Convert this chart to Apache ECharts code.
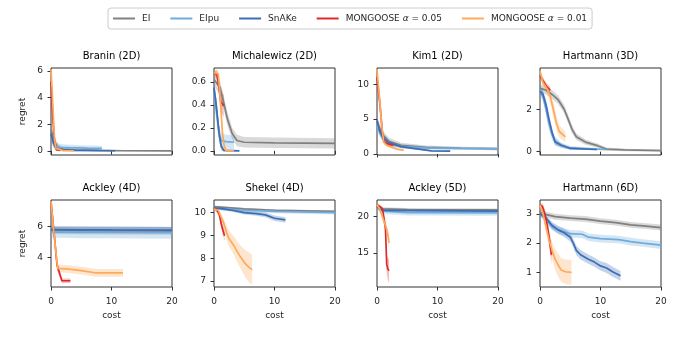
<!DOCTYPE html>
<html>
<head>
<meta charset="utf-8">
<script src="https://cdn.jsdelivr.net/npm/echarts@6/dist/echarts.min.js"></script>
<style>
  html, body { margin: 0; background: #fff; }
  #chart { width: 675px; height: 340px; }
</style>
</head>
<body>
<div id="chart"></div>
<script>
// each point: [cost, mean regret, half width of the band]
const braninEI = [[0,1.6,0.5],[0.4,1.0,0.4],[0.8,0.5,0.35],[1.2,0.25,0.25],[2,0.15,0.15],[4,0.08,0.08],[8,0.04,0.05],[12,0.02,0.03],[20,0.01,0.02]]
const braninEIpu = [[0,1.2,0.5],[0.4,0.7,0.4],[0.8,0.35,0.3],[1.5,0.28,0.25],[3,0.25,0.22],[6,0.22,0.2],[8.4,0.2,0.2]]
const braninSnAKe = [[0,1.3,0.4],[0.4,0.6,0.3],[0.8,0.2,0.15],[1.5,0.08,0.08],[4,0.04,0.05],[10.6,0.02,0.03]]
const braninM05 = [[0,5.2,0.8],[0.3,2.5,0.8],[0.6,0.6,0.3],[0.9,0.1,0.1],[1.5,0.04,0.04]]
const braninM01 = [[0,6.1,0.1],[0.2,4.5,0.5],[0.4,2.5,0.6],[0.6,0.8,0.4],[0.8,0.2,0.15],[1.1,0.06,0.06],[2,0.03,0.03],[3.8,0.02,0.02]]

const michEI = [[0,0.62,0.06],[1,0.55,0.06],[1.6,0.42,0.06],[2.2,0.28,0.06],[3,0.15,0.05],[3.8,0.09,0.05],[5,0.075,0.045],[10,0.07,0.045],[20,0.065,0.045]]
const michEIpu = [[0,0.5,0.1],[0.4,0.35,0.1],[0.8,0.16,0.08],[1.2,0.09,0.06],[2,0.08,0.06],[3.3,0.075,0.06]]
const michSnAKe = [[0,0.55,0.05],[0.3,0.43,0.06],[0.6,0.28,0.07],[0.9,0.13,0.06],[1.2,0.04,0.04],[1.6,0.005,0.01],[4.2,0,0.005]]
const michM05 = [[0,0.68,0.02],[0.5,0.66,0.04],[0.8,0.56,0.06],[1.1,0.43,0.08],[1.6,0.39,0.1]]
const michM01 = [[0,0.68,0.02],[0.7,0.67,0.03],[0.9,0.55,0.05],[1.1,0.4,0.07],[1.4,0.15,0.07],[1.7,0.04,0.04],[2,0,0.01],[3.3,0,0.005]]

const kimEI = [[0,4.6,0.8],[0.5,3.6,0.7],[1,2.7,0.6],[2,1.8,0.5],[4,1.25,0.35],[8,0.95,0.25],[14,0.82,0.2],[20,0.75,0.2]]
const kimEIpu = [[0,4.0,0.8],[0.5,3.0,0.6],[1,2.1,0.5],[2,1.45,0.35],[4,1.1,0.3],[8,0.88,0.25],[14,0.8,0.2],[20,0.75,0.2]]
const kimSnAKe = [[0,4.8,0.6],[0.5,3.2,0.5],[1,2.3,0.4],[2,1.6,0.3],[4,1.05,0.2],[6,0.8,0.15],[9,0.45,0.1],[12.1,0.4,0.1]]
const kimM05 = [[0,11.0,0.8],[0.5,7.0,1.0],[0.9,3.0,0.6],[1.2,1.7,0.3],[2,1.35,0.2],[2.7,1.25,0.2]]
const kimM01 = [[0,12.2,0.1],[0.4,8.2,0.5],[0.8,4.0,0.5],[1.1,1.7,0.3],[1.6,1.25,0.2],[2.5,0.95,0.15],[3.5,0.65,0.1],[4.4,0.55,0.1]]

const hart3EI = [[0,3.0,0.2],[1,2.9,0.2],[2,2.7,0.2],[3,2.45,0.2],[4,2.0,0.2],[4.7,1.5,0.2],[5.3,1.05,0.18],[6,0.7,0.15],[7.5,0.45,0.12],[9.5,0.28,0.1],[11,0.12,0.08],[14,0.08,0.06],[20,0.05,0.05]]
const hart3EIpu = [[0,2.9,0.2],[0.5,2.6,0.25],[1,2.0,0.3],[1.5,1.3,0.3],[2,0.8,0.25],[2.5,0.5,0.2],[3.5,0.3,0.12],[5,0.18,0.08],[10.9,0.1,0.05]]
const hart3SnAKe = [[0,2.85,0.15],[0.5,2.7,0.2],[1,2.2,0.25],[1.5,1.5,0.25],[2,0.9,0.2],[2.5,0.45,0.15],[3.5,0.3,0.1],[5,0.15,0.06],[9.4,0.1,0.04]]
const hart3M05 = [[0,3.6,0.15],[0.5,3.35,0.15],[1,3.1,0.15],[1.7,2.9,0.15]]
const hart3M01 = [[0,3.8,0.1],[0.5,3.25,0.2],[1.2,2.95,0.25],[1.7,2.6,0.3],[2.2,2.0,0.35],[2.7,1.35,0.35],[3.2,0.95,0.3],[4.2,0.7,0.25]]

const ack4EI = [[0,5.75,0.25],[5,5.73,0.25],[10,5.72,0.25],[20,5.7,0.25]]
const ack4EIpu = [[0,5.62,0.35],[5,5.6,0.38],[10,5.6,0.38],[20,5.58,0.38]]
const ack4SnAKe = [[0,5.78,0.2],[5,5.77,0.2],[10,5.76,0.2],[20,5.75,0.2]]
const ack4M05 = [[0,7.6,0.1],[0.5,5.6,0.3],[1,3.5,0.3],[1.4,3.0,0.25],[1.8,2.5,0.15],[3.2,2.5,0.15]]
const ack4M01 = [[0,7.6,0.1],[0.5,5.5,0.3],[1.1,3.3,0.25],[3,3.25,0.25],[5,3.15,0.25],[7.5,3.0,0.25],[11.9,3.0,0.25]]

const shekEI = [[0,10.26,0.04],[5,10.16,0.04],[10,10.1,0.04],[20,10.05,0.04]]
const shekEIpu = [[0,10.2,0.08],[2,10.15,0.08],[5,10.1,0.08],[10,10.05,0.08],[20,10.0,0.08]]
const shekSnAKe = [[0,10.2,0.06],[1,10.18,0.06],[3,10.1,0.07],[5,10.0,0.08],[7,9.95,0.09],[8.5,9.9,0.1],[10,9.75,0.12],[11.8,9.68,0.12]]
const shekM05 = [[0,10.2,0.05],[0.5,10.1,0.1],[0.9,9.9,0.15],[1.2,9.5,0.2],[1.5,9.2,0.22],[1.75,8.98,0.22]]
const shekM01 = [[0,10.15,0.05],[0.7,10.1,0.1],[1.1,9.85,0.15],[1.6,9.55,0.2],[2.1,9.1,0.3],[2.5,8.85,0.35],[3.3,8.55,0.4],[3.8,8.3,0.45],[4.4,8.05,0.5],[5.2,7.75,0.6],[5.8,7.6,0.65],[6.3,7.5,0.65]]

const ack5EI = [[0,21.3,0.2],[1,21.0,0.2],[5,20.9,0.2],[20,20.85,0.2]]
const ack5EIpu = [[0,21.2,0.3],[1,20.7,0.4],[5,20.5,0.4],[20,20.45,0.4]]
const ack5SnAKe = [[0,21.3,0.2],[0.5,20.9,0.2],[1,20.8,0.2],[20,20.7,0.2]]
const ack5M05 = [[0,21.6,0.1],[0.5,21.3,0.2],[0.9,21.0,0.3],[1.2,19.5,0.5],[1.4,18.3,0.7],[1.5,16,1.0],[1.6,13.5,1.3],[1.8,12.8,1.5],[2,12.6,1.6]]
const ack5M01 = [[0,21.6,0.1],[0.4,21.0,0.3],[0.8,20.2,0.4],[1.2,19.2,0.5],[1.5,18.5,0.6],[1.8,17.5,0.8],[2,16.4,0.8]]

const hart6EI = [[0,3.05,0.08],[1,2.97,0.1],[2.5,2.9,0.1],[5,2.85,0.1],[7.5,2.82,0.1],[10,2.75,0.1],[12.5,2.7,0.1],[15,2.62,0.1],[17.5,2.58,0.1],[20,2.53,0.1]]
const hart6EIpu = [[0,3.0,0.08],[1,2.8,0.1],[2,2.55,0.12],[3,2.45,0.12],[5,2.32,0.13],[7,2.3,0.13],[8,2.2,0.13],[10,2.15,0.13],[13,2.12,0.13],[15,2.05,0.13],[17,2.0,0.13],[20,1.93,0.13]]
const hart6SnAKe = [[0,3.0,0.08],[1,2.85,0.1],[2,2.6,0.12],[3,2.45,0.13],[4,2.35,0.14],[5,2.2,0.15],[5.5,2.0,0.15],[6,1.75,0.16],[6.7,1.6,0.16],[8,1.45,0.16],[9,1.35,0.16],[10,1.22,0.16],[11,1.15,0.17],[12,1.02,0.17],[13.3,0.88,0.17]]
const hart6M05 = [[0,3.3,0.05],[0.4,3.25,0.1],[0.8,3.0,0.15],[1.2,2.6,0.2],[1.5,2.2,0.25],[1.9,1.6,0.35]]
const hart6M01 = [[0,3.3,0.05],[0.5,3.0,0.15],[1,2.55,0.2],[1.5,2.1,0.25],[2,1.75,0.3],[2.5,1.45,0.35],[3,1.25,0.4],[3.5,1.08,0.4],[4.2,1.02,0.42],[5.2,1.0,0.42]]

const methods = ['EI', 'EIpu', 'SnAKe', 'MONGOOSE α = 0.05', 'MONGOOSE α = 0.01']
const titles = ['Branin (2D)', 'Michalewicz (2D)', 'Kim1 (2D)', 'Hartmann (3D)',
                'Ackley (4D)', 'Shekel (4D)', 'Ackley (5D)', 'Hartmann (6D)']
const yMin = [-0.3, -0.036, -0.15, -0.16, 2.1, 6.74, 10.4, 0.5]
const yMax = [6.22, 0.72, 12.35, 3.95, 7.68, 10.55, 22.2, 3.47]
const yTicks = [[0, 2, 4, 6], [0, 0.2, 0.4, 0.6], [0, 5, 10], [0, 2],
                [4, 6], [7, 8, 9, 10], [15, 20], [1, 2, 3]]
const xTicks = [0, 10, 20]

const panels = [
    [braninEI, braninEIpu, braninSnAKe, braninM05, braninM01],
    [michEI, michEIpu, michSnAKe, michM05, michM01],
    [kimEI, kimEIpu, kimSnAKe, kimM05, kimM01],
    [hart3EI, hart3EIpu, hart3SnAKe, hart3M05, hart3M01],
    [ack4EI, ack4EIpu, ack4SnAKe, ack4M05, ack4M01],
    [shekEI, shekEIpu, shekSnAKe, shekM05, shekM01],
    [ack5EI, ack5EIpu, ack5SnAKe, ack5M05, ack5M01],
    [hart6EI, hart6EIpu, hart6SnAKe, hart6M05, hart6M01]
]

const colors = ['#808080', '#6fabdc', '#3d6db5', '#dd2b2b', '#fdaa5c']
const FONT = 'DejaVu Sans'
const INK = '#262626'

const gridLeft = [51, 214, 377, 540]
const gridTop = [68, 200]
const gridW = 121
const gridH = 87

function rgba(hex, a) {
    const n = parseInt(hex.slice(1), 16)
    return `rgba(${n >> 16},${(n >> 8) & 255},${n & 255},${a})`
}

const grids = [], xAxes = [], yAxes = [], titleList = [], series = []

panels.forEach((panel, p) => {
    const col = p % 4, row = Math.floor(p / 4)
    grids.push({
        left: gridLeft[col], top: gridTop[row], width: gridW, height: gridH,
        show: true, borderColor: '#333', borderWidth: 1, backgroundColor: 'transparent'
    })
    titleList.push({
        text: titles[p], left: gridLeft[col] + gridW / 2, top: gridTop[row] - 17,
        textAlign: 'center', padding: 0,
        textStyle: { fontFamily: FONT, fontSize: 10, fontWeight: 'normal', color: '#000' }
    })
    xAxes.push({
        type: 'value', gridIndex: p, min: 0, max: 20,
        axisLine: { show: false },
        axisTick: { show: true, length: 3.5, lineStyle: { color: '#333' }, customValues: xTicks },
        axisLabel: {
            show: row === 1, margin: 10, customValues: xTicks,
            fontFamily: FONT, fontSize: 9, color: INK
        },
        splitLine: { show: false },
        name: row === 1 ? 'cost' : '', nameLocation: 'middle', nameGap: 24,
        nameTextStyle: { fontFamily: FONT, fontSize: 9, color: INK }
    })
    const dec = p === 1 ? 1 : 0
    yAxes.push({
        type: 'value', gridIndex: p, min: yMin[p], max: yMax[p],
        axisLine: { show: false },
        axisTick: { show: true, length: 3.5, lineStyle: { color: '#333' }, customValues: yTicks[p] },
        axisLabel: {
            margin: 8, customValues: yTicks[p],
            formatter: v => v.toFixed(dec),
            fontFamily: FONT, fontSize: 9, color: INK
        },
        splitLine: { show: false },
        name: col === 0 ? 'regret' : '', nameLocation: 'middle', nameGap: 24,
        nameTextStyle: { fontFamily: FONT, fontSize: 9, color: INK }
    })

    panel.forEach((pts, m) => {
        // confidence band, drawn as one polygon through the axis scales
        series.push({
            type: 'custom', name: methods[m] + ' band',
            xAxisIndex: p, yAxisIndex: p, z: 1, silent: true, clip: true,
            data: pts.map(d => [d[0], d[1] - d[2], d[1] + d[2]]),
            encode: { x: 0, y: [1, 2] },
            renderItem: (params, api) => {
                if (params.dataIndexInside !== 0) return
                const n = params.dataInsideLength
                const upper = [], lower = []
                for (let i = 0; i < n; i++) {
                    upper.push(api.coord([api.value(0, i), api.value(2, i)]))
                    lower.push(api.coord([api.value(0, i), api.value(1, i)]))
                }
                return {
                    type: 'polygon',
                    shape: { points: upper.concat(lower.reverse()) },
                    style: { fill: rgba(colors[m], 0.3), stroke: null }
                }
            }
        })
        series.push({
            type: 'line', name: methods[m],
            xAxisIndex: p, yAxisIndex: p, z: 3, silent: true,
            symbol: 'none',
            data: pts.map(d => [d[0], d[1]]),
            lineStyle: { color: colors[m], width: 1.7 },
            itemStyle: { color: colors[m] }
        })
    })
})

const chart = echarts.init(document.getElementById('chart'))
chart.setOption({
    animation: false,
    backgroundColor: '#fff',
    title: titleList,
    legend: {
        data: methods, top: 8, left: 108,
        icon: 'rect', itemWidth: 22, itemHeight: 2, itemGap: 20,
        padding: [6, 5],
        borderColor: '#cccccc', borderWidth: 1, borderRadius: 3,
        selectedMode: false,
        formatter: name => name.replace('α', '{i|α}'),
        textStyle: {
            fontFamily: FONT, fontSize: 9, color: INK, padding: [0, 0, 0, 2],
            rich: { i: { fontFamily: FONT, fontSize: 9, fontStyle: 'italic', color: INK } }
        }
    },
    grid: grids,
    xAxis: xAxes,
    yAxis: yAxes,
    series: series
})
</script>
</body>
</html>
